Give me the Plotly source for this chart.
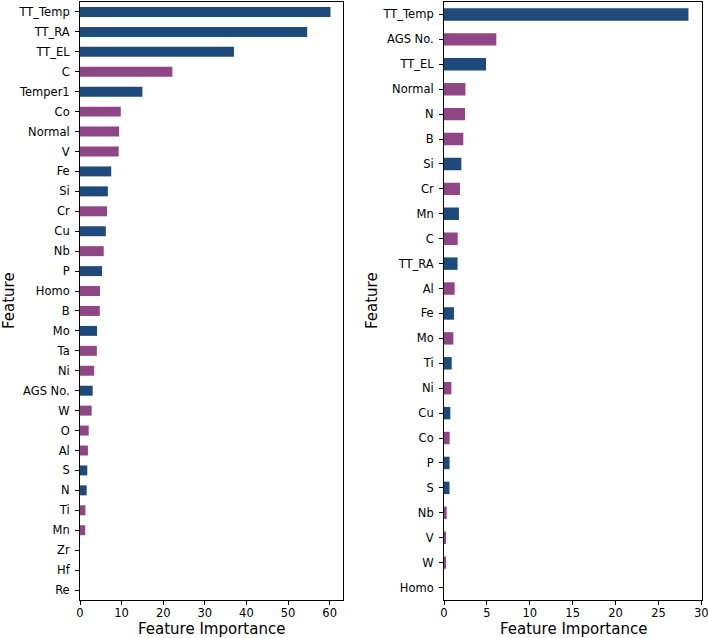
import plotly.graph_objects as go

BLUE = "#1d4a7b"
PURPLE = "#8f4586"

left_features = ["TT_Temp", "TT_RA", "TT_EL", "C", "Temper1", "Co", "Normal", "V", "Fe", "Si",
                 "Cr", "Cu", "Nb", "P", "Homo", "B", "Mo", "Ta", "Ni", "AGS No.",
                 "W", "O", "Al", "S", "N", "Ti", "Mn", "Zr", "Hf", "Re"]
left_values = [60.2, 54.6, 37.0, 22.2, 15.0, 9.8, 9.4, 9.3, 7.5, 6.7,
               6.5, 6.2, 5.7, 5.3, 4.8, 4.75, 4.1, 4.05, 3.4, 3.05,
               2.8, 2.1, 1.9, 1.75, 1.6, 1.3, 1.25, 0.0, 0.0, 0.0]
left_groups = ["b", "b", "b", "p", "b", "p", "p", "p", "b", "b",
               "p", "b", "p", "b", "p", "p", "b", "p", "p", "b",
               "p", "p", "p", "b", "b", "p", "p", "p", "p", "p"]

right_features = ["TT_Temp", "AGS No.", "TT_EL", "Normal", "N", "B", "Si", "Cr", "Mn", "C",
                  "TT_RA", "Al", "Fe", "Mo", "Ti", "Ni", "Cu", "Co", "P", "S",
                  "Nb", "V", "W", "Homo"]
right_values = [28.5, 6.1, 4.9, 2.5, 2.45, 2.25, 2.02, 1.86, 1.74, 1.6,
                1.58, 1.24, 1.16, 1.09, 0.9, 0.86, 0.74, 0.66, 0.65, 0.64,
                0.31, 0.23, 0.22, 0.0]
right_groups = ["b", "p", "b", "p", "p", "p", "b", "p", "b", "p",
                "b", "p", "b", "p", "b", "p", "b", "p", "b", "b",
                "p", "p", "p", "p"]

left_ticks = [0, 10, 20, 30, 40, 50, 60]
right_ticks = [0, 5, 10, 15, 20, 25, 30]

cmap = {"b": BLUE, "p": PURPLE}
W, H = 708, 638
FONT = "DejaVu Sans"
TICK_SIZE = 11.5

fig = go.Figure()
fig.add_trace(go.Bar(
    x=left_values, y=left_features, orientation="h", width=0.5,
    marker=dict(color=[cmap[g] for g in left_groups], line=dict(width=0)),
    xaxis="x", yaxis="y", showlegend=False))
fig.add_trace(go.Bar(
    x=right_values, y=right_features, orientation="h", width=0.5,
    marker=dict(color=[cmap[g] for g in right_groups], line=dict(width=0)),
    xaxis="x2", yaxis="y2", showlegend=False))

ax_common = dict(showgrid=False, zeroline=False, showline=True, linecolor="black",
                 linewidth=1, mirror=True, ticks="outside", ticklen=4, tickwidth=1,
                 tickcolor="black", automargin=False, ticklabeloverflow="allow",
                 tickfont=dict(family=FONT, size=TICK_SIZE, color="black"))

y0 = (H - 600) / H
y1 = (H - 2) / H

fig.update_layout(
    width=W, height=H, margin=dict(l=0, r=0, t=0, b=0, autoexpand=False),
    plot_bgcolor="white", paper_bgcolor="white",
    font=dict(family=FONT, color="black", size=TICK_SIZE),
    xaxis=dict(domain=[80 / W, 343 / W], range=[0, max(left_values) * 1.05],
               tickvals=left_ticks, anchor="y", ticklabelstandoff=-2, **ax_common),
    yaxis=dict(domain=[y0, y1], type="category", categoryorder="array",
               categoryarray=left_features, range=[len(left_features) - 0.5, -0.5],
               anchor="x", ticklabelstandoff=3, **ax_common),
    xaxis2=dict(domain=[444 / W, 701.5 / W], range=[0, 30.02],
                tickvals=right_ticks, anchor="y2", ticklabelstandoff=-2, **ax_common),
    yaxis2=dict(domain=[y0, y1], type="category", categoryorder="array",
                categoryarray=right_features, range=[len(right_features) - 0.5, -0.5],
                anchor="x2", ticklabelstandoff=3, **ax_common),
)

ann_font = dict(family=FONT, size=15, color="black")
annotations = [
    dict(text="Feature Importance", x=211 / W, y=(H - 629) / H, xref="paper", yref="paper",
         showarrow=False, font=ann_font, xanchor="center", yanchor="middle"),
    dict(text="Feature Importance", x=573 / W, y=(H - 629) / H, xref="paper", yref="paper",
         showarrow=False, font=ann_font, xanchor="center", yanchor="middle"),
    dict(text="Feature", x=9 / W, y=(H - 301) / H, xref="paper", yref="paper",
         showarrow=False, font=ann_font, textangle=-90, xanchor="center", yanchor="middle"),
    dict(text="Feature", x=372 / W, y=(H - 301) / H, xref="paper", yref="paper",
         showarrow=False, font=ann_font, textangle=-90, xanchor="center", yanchor="middle"),
]
fig.update_layout(annotations=annotations)

fig.write_html("out.html", config={"displayModeBar": False},
               post_script="document.body.style.margin='0';document.body.style.overflow='hidden';")
